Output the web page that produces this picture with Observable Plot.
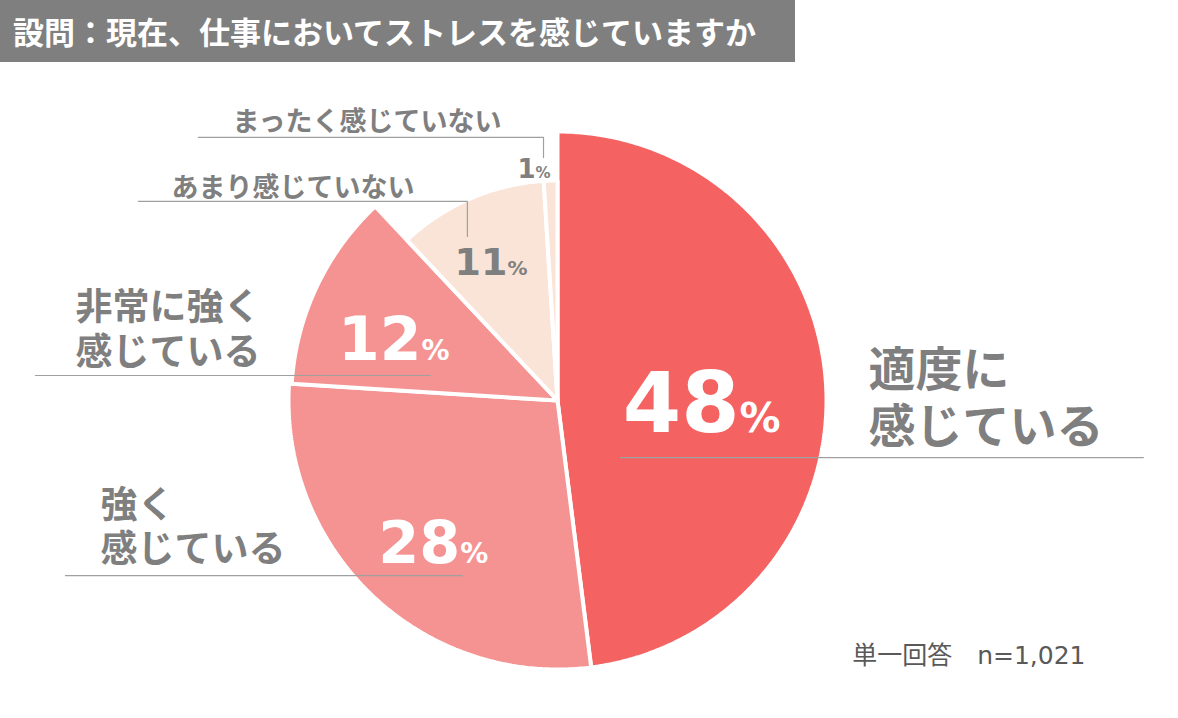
<!DOCTYPE html>
<html><head><meta charset="utf-8">
<script src="https://cdn.jsdelivr.net/npm/d3@7"></script>
<script src="https://cdn.jsdelivr.net/npm/@observablehq/plot@0.6"></script>
<style>
body{margin:0;background:#fff;}
#title{width:795px;height:62px;background:#7f7f7f;color:#fff;font-family:"Noto Sans CJK JP";font-weight:700;font-size:31px;line-height:62px;padding-left:13px;box-sizing:border-box;white-space:nowrap;}
#chart svg{display:block;}
</style></head><body>
<div id="title"></div>
<div id="chart"></div>
<script>
// ---- data ----
const title = "設問：現在、仕事においてストレスを感じていますか";
const categories = ["適度に感じている", "強く感じている", "非常に強く感じている", "あまり感じていない", "まったく感じていない"];
const labelTexts = ["適度に\n感じている", "強く\n感じている", "非常に強く\n感じている", "あまり感じていない", "まったく感じていない"];
const values = [48, 28, 12, 11, 1];
const colors = ["#F46262", "#F49392", "#F49392", "#FAE4D8", "#FAE4D8"];
const footnote = "単一回答　n=1,021";

// ---- layout (not data) ----
const W = 1178, H = 656, CX = 557, CY = 338, R = 269;
const radiusFactor = [1, 1, 0.99, 0.818, 0.818];
const pctLayout = [
  {r: 0.677, da: 3.9, big: 84, small: 41, white: true},
  {r: 0.636, da: -8.6, big: 59, small: 28, white: true},
  {r: 0.557, da: -0.4, big: 60, small: 28, white: true},
  {r: 0.549, da: 3.6, big: 38, small: 20, white: false},
  {r: 0.866, da: -3.6, big: 26, small: 15, white: false}
];
const catLayout = [
  {x: 1.156, y: 0.015, fs: 47},
  {x: -1.699, y: -0.465, fs: 37},
  {x: -1.792, y: 0.268, fs: 37},
  {x: -1.435, y: 0.796, fs: 27},
  {x: -1.208, y: 1.041, fs: 27}
];
const leaderLayout = [
  [[0.234, -0.212], [2.178, -0.212]],
  [[-1.829, -0.651], [-0.353, -0.651]],
  [[-1.941, 0.093], [-0.472, 0.093]],
  [[-1.558, 0.740], [-0.335, 0.740], [-0.335, 0.610]],
  [[-1.335, 0.978], [-0.052, 0.978], [-0.052, 0.903]]
];

document.getElementById("title").textContent = title;

const arcs = d3.pie().sort(null).value(d => d)(values);

const slicePts = [];
arcs.forEach((a, i) => {
  const rf = radiusFactor[i];
  const cat = categories[i];
  slicePts.push({cat, x: 0, y: 0});
  const n = Math.max(4, Math.ceil((a.endAngle - a.startAngle) / (Math.PI / 360)));
  for (let k = 0; k <= n; k++) {
    const t = a.startAngle + (a.endAngle - a.startAngle) * k / n;
    slicePts.push({cat, x: rf * Math.sin(t), y: rf * Math.cos(t)});
  }
  slicePts.push({cat, x: 0, y: 0});
});

const pctData = arcs.map((a, i) => {
  const L = pctLayout[i];
  const mid = (a.startAngle + a.endAngle) / 2 + L.da * Math.PI / 180;
  const x = L.r * Math.sin(mid);
  const y = L.r * Math.cos(mid) - 0.365 * L.big / R;
  return {num: String(values[i]), x, y, big: L.big, small: L.small, white: L.white};
});

const catData = categories.map((c, i) => ({text: labelTexts[i], x: catLayout[i].x, y: catLayout[i].y, fs: catLayout[i].fs}));

const leaderPts = [];
leaderLayout.forEach((pts, i) => pts.forEach(([x, y]) => leaderPts.push({k: i, x, y})));

const numFont = "DejaVu Sans, Noto Sans CJK JP";
const jpFont = "Noto Sans CJK JP";

const chart = Plot.plot({
  width: W, height: H,
  margin: 0,
  x: {domain: [-1, 1], range: [CX - R, CX + R], axis: null},
  y: {domain: [-1, 1], range: [CY + R, CY - R], axis: null},
  color: {domain: categories, range: colors},
  style: {background: "#fff"},
  marks: [
    Plot.line(slicePts, {x: "x", y: "y", z: "cat", fill: "cat", stroke: "#fff", strokeWidth: 4, strokeLinejoin: "miter", curve: "linear"}),
    Plot.line(leaderPts, {x: "x", y: "y", z: "k", stroke: "#a0a0a0", strokeWidth: 1.2, curve: "linear"}),
    Plot.text(pctData, {filter: d => d.white, x: "x", y: "y", text: "num", textAnchor: "end", lineAnchor: "bottom", fontSize: d => d.big, fontWeight: 700, fontFamily: numFont, fill: "#fff"}),
    Plot.text(pctData, {filter: d => d.white, x: "x", y: "y", text: d => "%", textAnchor: "start", lineAnchor: "bottom", fontSize: d => d.small, fontWeight: 700, fontFamily: numFont, fill: "#fff"}),
    Plot.text(pctData, {filter: d => !d.white, x: "x", y: "y", text: "num", textAnchor: "end", lineAnchor: "bottom", fontSize: d => d.big, fontWeight: 700, fontFamily: numFont, fill: "#7f7f7f"}),
    Plot.text(pctData, {filter: d => !d.white, x: "x", y: "y", text: d => "%", textAnchor: "start", lineAnchor: "bottom", fontSize: d => d.small, fontWeight: 700, fontFamily: numFont, fill: "#7f7f7f"}),
    Plot.text(catData, {x: "x", y: "y", text: "text", textAnchor: "start", lineAnchor: "middle", lineHeight: 1.2, fontSize: d => d.fs, fontWeight: 700, fontFamily: jpFont, fill: "#7f7f7f"}),
    Plot.text([footnote], {frameAnchor: "bottom-right", text: d => d, textAnchor: "end", lineAnchor: "middle", dx: -93, dy: -63, fontSize: 25, fontFamily: numFont, fill: "#595959"})
  ]
});
document.getElementById("chart").appendChild(chart);
</script>
</body></html>
